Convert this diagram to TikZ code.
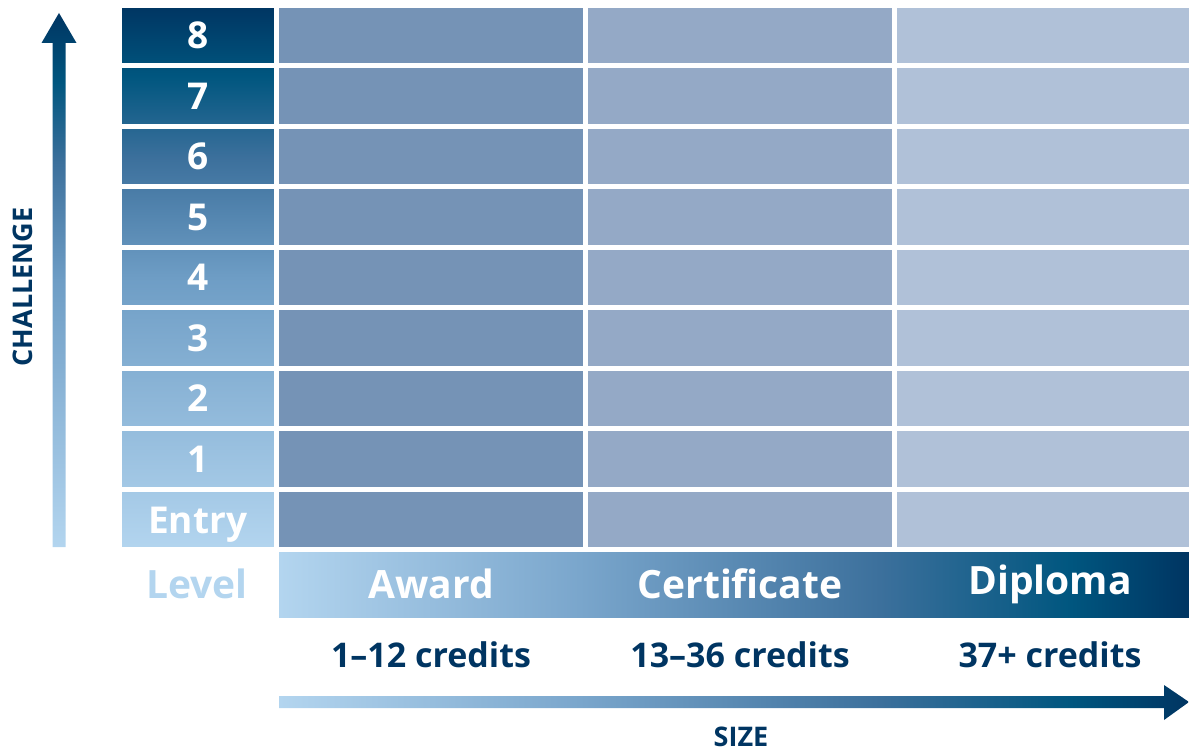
\documentclass[tikz,border=0pt]{standalone}
\usepackage{fontspec}
\setmainfont{Open Sans}
\usetikzlibrary{positioning}

\definecolor{navy}{HTML}{003562}
\definecolor{teal}{HTML}{00567F}
\definecolor{midblue}{HTML}{3C709C}
\definecolor{softblue}{HTML}{6E9DC5}
\definecolor{paleblue}{HTML}{7AA6CC}
\definecolor{lightblue}{HTML}{B3D5EF}
\definecolor{awardblue}{HTML}{7593B6}
\definecolor{certblue}{HTML}{94A9C6}
\definecolor{dipblue}{HTML}{B0C1D8}

% shadings for the level column, the size bar and both axes
\pgfdeclareverticalshading{challengeshade}{100bp}{color(0bp)=(lightblue); color(25bp)=(lightblue);
  color(50bp)=(softblue); color(61bp)=(midblue); color(68.5bp)=(teal); color(75bp)=(navy); color(100bp)=(navy)}
\pgfdeclarehorizontalshading{sizeshade}{100bp}{color(0bp)=(lightblue); color(25bp)=(lightblue);
  color(41.5bp)=(paleblue); color(58bp)=(midblue); color(68.5bp)=(teal); color(75bp)=(navy); color(100bp)=(navy)}

\begin{document}
\begin{tikzpicture}[
  x=1pt, y=-1pt,
  node distance=0pt,
  every node/.style={font=\bfseries},
  cell/.style={draw=white, line width=5pt, rectangle, inner sep=0pt, outer sep=0pt, minimum height=60.44pt},
  levelcell/.style={cell, minimum width=156.5pt, text=white, font=\bfseries\fontsize{37}{40}\selectfont},
  awardcell/.style={cell, fill=awardblue, minimum width=309.5pt},
  certcell/.style={cell, fill=certblue, minimum width=309pt},
  dipcell/.style={cell, fill=dipblue, minimum width=297pt},
  sizebar/.style={rectangle, shade, shading=sizeshade, inner sep=0pt, outer sep=0pt, minimum width=910pt, minimum height=65pt},
  barlabel/.style={text=white, font=\bfseries\fontsize{39}{42}\selectfont},
  credits/.style={text=navy, font=\bfseries\fontsize{34}{38}\selectfont},
  axislabel/.style={text=navy, inner sep=0pt, font=\bfseries\fontsize{27}{30}\selectfont}
]
\useasboundingbox (0,0) rectangle (1189,751);

% Level column background
\shade[shading=challengeshade] (119.5,5.5) rectangle (276,549.5);

% Level cells
\node[levelcell] (lv8) at (197.75,35.72) {8};
\node[levelcell, below=of lv8] (lv7) {7};
\node[levelcell, below=of lv7] (lv6) {6};
\node[levelcell, below=of lv6] (lv5) {5};
\node[levelcell, below=of lv5] (lv4) {4};
\node[levelcell, below=of lv4] (lv3) {3};
\node[levelcell, below=of lv3] (lv2) {2};
\node[levelcell, below=of lv2] (lv1) {1};
\node[levelcell, below=of lv1, text depth=0pt] (lvE) {\raisebox{-3pt}{Entry}};

% Award, certificate and diploma cells
\foreach \r in {8,7,6,5,4,3,2,1,E} {
  \node[awardcell, right=of lv\r] (aw\r) {};
  \node[certcell, right=of aw\r] (ce\r) {};
  \node[dipcell, right=of ce\r] (di\r) {};
}

% Size bar
\node[sizebar] (bar) at (734,584.5) {};
\node[barlabel, text=lightblue] (level) at (197,584) {Level};
\node[barlabel] (award) at (431,584) {Award};
\node[barlabel] (certificate) at (740,584) {Certificate};
\node[barlabel] (diploma) at (1050,584) {Diploma};

% Credits
\node[credits] (awcred) at (431,655) {1\textendash12 credits};
\node[credits] (cecred) at (740,655) {13\textendash36 credits};
\node[credits] (dicred) at (1050,655) {37+ credits};

% Axes
\shade[shading=challengeshade] (52.5,547) -- (65.5,547) -- (65.5,43) -- (76.5,43) -- (59,13)
  -- (41.5,43) -- (52.5,43) -- cycle;
\shade[shading=sizeshade] (279,696) -- (1164,696) -- (1164,685) -- (1189,702) -- (1164,720)
  -- (1164,708) -- (279,708) -- cycle;
\node[axislabel, rotate=90] (challenge) at (23,287) {CHALLENGE};
\node[axislabel, anchor=base] (size) at (741,746) {SIZE};

\end{tikzpicture}
\end{document}
